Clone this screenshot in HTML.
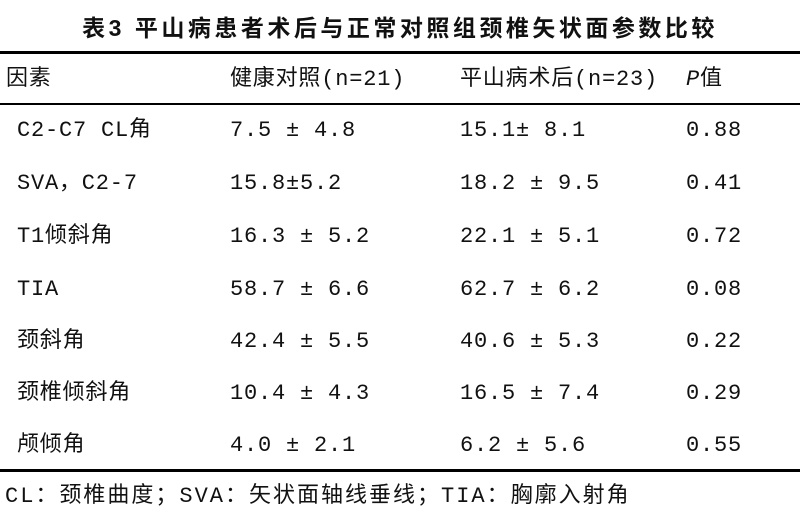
<!DOCTYPE html>
<html><head><meta charset="utf-8"><style>
body{margin:0;background:#fff;}
#c{position:relative;width:800px;height:526px;overflow:hidden;font-family:"Liberation Mono","Noto Sans CJK SC",monospace;font-size:22px;letter-spacing:0.8px;color:#111;}
.t{position:absolute;white-space:pre;line-height:26px;}
.l{position:absolute;left:0;width:800px;background:#000;}
</style></head><body><div id="c">
<div class="t" style="left:0;width:800px;text-align:center;top:15px;font-weight:bold;font-family:'Liberation Sans','Noto Sans CJK SC',sans-serif;font-size:23px;letter-spacing:3.5px;">表3 平山病患者术后与正常对照组颈椎矢状面参数比较</div>
<div class="l" style="top:51px;height:3px"></div>
<div class="t" style="left:6px;top:67px">因素</div>
<div class="t" style="left:230px;top:67px">健康对照(n=21)</div>
<div class="t" style="left:460px;top:67px">平山病术后(n=23)</div>
<div class="t" style="left:686px;top:67px"><i>P</i>值</div>
<div class="l" style="top:103px;height:2px"></div>

<div class="t" style="left:17px;top:118px">C2-C7 CL角</div><div class="t" style="left:230px;top:118px">7.5 ± 4.8</div><div class="t" style="left:460px;top:118px">15.1± 8.1</div><div class="t" style="left:686px;top:118px">0.88</div>
<div class="t" style="left:17px;top:171px">SVA，C2-7</div><div class="t" style="left:230px;top:171px">15.8±5.2</div><div class="t" style="left:460px;top:171px">18.2 ± 9.5</div><div class="t" style="left:686px;top:171px">0.41</div>
<div class="t" style="left:17px;top:224px">T1倾斜角</div><div class="t" style="left:230px;top:224px">16.3 ± 5.2</div><div class="t" style="left:460px;top:224px">22.1 ± 5.1</div><div class="t" style="left:686px;top:224px">0.72</div>
<div class="t" style="left:17px;top:277px">TIA</div><div class="t" style="left:230px;top:277px">58.7 ± 6.6</div><div class="t" style="left:460px;top:277px">62.7 ± 6.2</div><div class="t" style="left:686px;top:277px">0.08</div>
<div class="t" style="left:17px;top:329px">颈斜角</div><div class="t" style="left:230px;top:329px">42.4 ± 5.5</div><div class="t" style="left:460px;top:329px">40.6 ± 5.3</div><div class="t" style="left:686px;top:329px">0.22</div>
<div class="t" style="left:17px;top:381px">颈椎倾斜角</div><div class="t" style="left:230px;top:381px">10.4 ± 4.3</div><div class="t" style="left:460px;top:381px">16.5 ± 7.4</div><div class="t" style="left:686px;top:381px">0.29</div>
<div class="t" style="left:17px;top:433px">颅倾角</div><div class="t" style="left:230px;top:433px">4.0 ± 2.1</div><div class="t" style="left:460px;top:433px">6.2 ± 5.6</div><div class="t" style="left:686px;top:433px">0.55</div>
<div class="l" style="top:469px;height:3px"></div>
<div class="t" style="left:5px;top:484px;letter-spacing:2px">CL：颈椎曲度；SVA：矢状面轴线垂线；TIA：胸廓入射角</div>
</div></body></html>
